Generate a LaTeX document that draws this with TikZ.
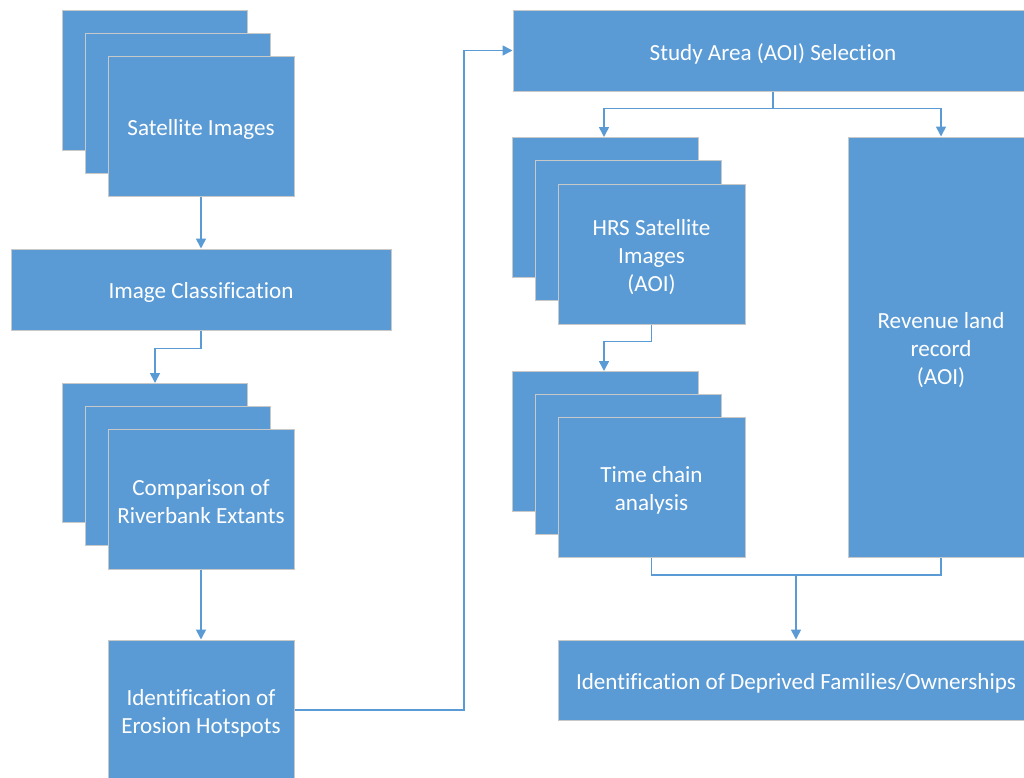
\documentclass[tikz,border=0pt]{standalone}
\usepackage{fontspec}
\setmainfont[Ligatures=NoCommon]{Carlito}
\usetikzlibrary{arrows.meta,calc}
\definecolor{boxblue}{HTML}{5B9BD5}
\definecolor{edgegray}{HTML}{C8C8C8}
\begin{document}
\begin{tikzpicture}[x=1pt,y=-1pt,
  blk/.style={draw=edgegray,line width=1pt,fill=boxblue,inner sep=0pt},
  lbl/.style={text=white,align=center,font=\fontsize{23.1}{28}\selectfont,inner sep=0pt},
  conn/.style={draw=boxblue,line width=1.6pt},
  arr/.style={conn,-{Triangle[length=10pt,width=10pt]}}]
\clip (0,0) rectangle (1024,777);
\fill[white] (0,0) rectangle (1024,777);
% Satellite stack
\path[blk] (62,10) rectangle (247,150);
\path[blk] (85,33) rectangle (270,173);
\node[blk,minimum width=186pt,minimum height=140pt] (sat) at (201,126) {};
\node[lbl] at ([yshift=-3pt]sat.center) {Satellite Images};
% Image classification
\node[blk,minimum width=380pt,minimum height=81pt] (cls) at (201,289.5) {};
\node[lbl] at ([yshift=-3pt]cls.center) {Image Classification};
% Comparison stack
\path[blk] (62,383) rectangle (247,522);
\path[blk] (85,406) rectangle (270,545);
\node[blk,minimum width=186pt,minimum height=140pt] (cmp) at (201,499) {};
\node[lbl] at ([yshift=-3pt]cmp.center) {Comparison of\\Riverbank Extants};
\coordinate (cmpback) at (155,383);
% Erosion hotspots
\node[blk,minimum width=186pt,minimum height=140pt] (ero) at (201,710) {};
\node[lbl] at ([yshift=-3pt]ero.center) {Identification of\\Erosion Hotspots};
% Study area
\node[blk,minimum width=520pt,minimum height=81pt] (aoi) at (773,50.5) {};
\node[lbl] at ([yshift=-3pt]aoi.center) {Study Area (AOI) Selection};
% HRS stack
\path[blk] (512,137) rectangle (698,277);
\path[blk] (535,160) rectangle (721,300);
\node[blk,minimum width=187pt,minimum height=140pt] (hrs) at (651.5,254) {};
\node[lbl] at ([yshift=-3pt]hrs.center) {HRS Satellite\\Images\\(AOI)};
\coordinate (hrsback) at (604,137);
% Revenue
\node[blk,minimum width=186pt,minimum height=420pt] (rev) at (941,347) {};
\node[lbl] at ([yshift=-3pt]rev.center) {Revenue land\\record\\(AOI)};
% Time chain stack
\path[blk] (512,371) rectangle (698,511);
\path[blk] (535,394) rectangle (721,534);
\node[blk,minimum width=187pt,minimum height=140pt] (tca) at (651.5,487) {};
\node[lbl] at ([yshift=-3pt]tca.center) {Time chain\\analysis};
\coordinate (tcaback) at (604,371);
% Deprived
\node[blk,minimum width=476pt,minimum height=80pt] (dep) at (796,680) {};
\node[lbl] at ([yshift=-3pt]dep.center) {Identification of Deprived Families/Ownerships};
% connectors
\draw[arr] (sat.south) -- (cls.north);
\draw[arr] (cls.south) -- ++(0,18) -| (cmpback);
\draw[arr] (cmp.south) -- (ero.north);
\draw[arr] (ero.east) -- (464,710) |- (aoi.west);
\draw[conn] (aoi.south) -- ++(0,17) coordinate (split);
\draw[arr] (split) -| (hrsback);
\draw[arr] (split) -| (rev.north);
\draw[arr] (hrs.south) -- ++(0,17) -| (tcaback);
\draw[conn] (tca.south) |- (796,575) coordinate (join) -| (rev.south);
\draw[arr] (join) -- (dep.north);
\end{tikzpicture}
\end{document}
